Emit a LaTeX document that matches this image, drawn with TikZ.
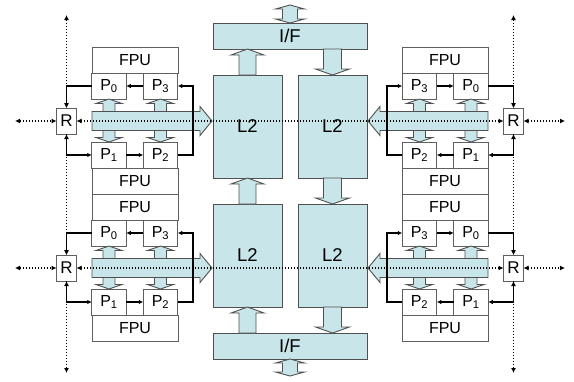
\documentclass[tikz,border=0pt]{standalone}
\usepackage{fontspec}
\setmainfont{Liberation Sans}
\usetikzlibrary{arrows.meta,calc}
\definecolor{lb}{RGB}{200,230,234}
\definecolor{edg}{RGB}{80,80,80}
\definecolor{bxe}{RGB}{95,95,95}
\tikzset{
 box/.style={draw=bxe, line width=0.9pt, fill=white, inner sep=0pt, outer sep=0pt, font=\fontsize{16}{16}\selectfont},
 bbox/.style={draw=edg, line width=0.9pt, fill=lb, inner sep=0pt, outer sep=0pt, font=\fontsize{18.5}{18.5}\selectfont},
 blk/.style={draw=edg, line width=0.9pt, fill=lb, line join=miter},
 wire/.style={line width=1.1pt, -{Latex[length=4.5pt,width=4.5pt]}},
 dots/.style={line width=1.4pt, dash pattern=on 1.4pt off 1.6pt, {Latex[length=5pt,width=5pt]}-{Latex[length=5pt,width=5pt]}},
}
% double vertical block arrow: #1 upper end, #2 lower end, #3 shaft half, #4 head half, #5 head height
\newcommand\blkdbl[5]{\draw[blk] let \p1=(#1), \p2=(#2) in
 (\x1-#3,\y1-#5) -- (\x1-#4,\y1-#5) -- (\x1,\y1) -- (\x1+#4,\y1-#5) -- (\x1+#3,\y1-#5)
 -- (\x1+#3,\y2+#5) -- (\x1+#4,\y2+#5) -- (\x1,\y2) -- (\x1-#4,\y2+#5) -- (\x1-#3,\y2+#5) -- cycle;}
% up block arrow: #1 tail, #2 tip, #3 node giving x
\newcommand\blkup[3]{\draw[blk] let \p1=(#1), \p2=(#2), \p3=(#3) in
 (\x3-8.5pt,\y1) -- (\x3-8.5pt,\y2-6pt) -- (\x3-16.5pt,\y2-6pt) -- (\x3,\y2) -- (\x3+16.5pt,\y2-6pt) -- (\x3+8.5pt,\y2-6pt) -- (\x3+8.5pt,\y1) -- cycle;}
\newcommand\blkdown[3]{\draw[blk] let \p1=(#1), \p2=(#2), \p3=(#3) in
 (\x3-9pt,\y1) -- (\x3-9pt,\y2+6pt) -- (\x3-17pt,\y2+6pt) -- (\x3,\y2) -- (\x3+17pt,\y2+6pt) -- (\x3+9pt,\y2+6pt) -- (\x3+9pt,\y1) -- cycle;}
% processor group: #1 prefix, #2 side sign, #3 mid y
\newcommand\grp[3]{%
 \pgfmathsetmacro\gxa{290+(#2)*(135-290)}%
 \pgfmathsetmacro\gxp{290+(#2)*(109-290)}%
 \pgfmathsetmacro\gxq{290+(#2)*(160.5-290)}%
 \pgfmathsetmacro\gxr{290+(#2)*(66.5-290)}%
 \pgfmathsetmacro\gxw{290+(#2)*(193-290)}%
 \pgfmathsetmacro\gxs{290+(#2)*(92-290)}%
 \pgfmathsetmacro\gxb{290+(#2)*(200-290)}%
 \pgfmathsetmacro\gxt{290+(#2)*(212-290)}%
 \node[box, minimum width=86pt, minimum height=26pt] (#1F1) at (\gxa,#3-61) {FPU};
 \node[box, minimum width=34.5pt, minimum height=26pt] (#1P0) at (\gxp,#3-35) {P\textsubscript{0}};
 \node[box, minimum width=34.5pt, minimum height=26pt] (#1P3) at (\gxq,#3-35) {P\textsubscript{3}};
 \node[box, minimum width=34.5pt, minimum height=26pt] (#1P1) at (\gxp,#3+34) {P\textsubscript{1}};
 \node[box, minimum width=34.5pt, minimum height=26pt] (#1P2) at (\gxq,#3+34) {P\textsubscript{2}};
 \node[box, minimum width=86pt, minimum height=26pt] (#1F2) at (\gxa,#3+60) {FPU};
 \node[box, minimum width=20pt, minimum height=26pt, font=\fontsize{17}{17}\selectfont] (#1R) at (\gxr,#3) {R};
 \blkdbl{#1P0.south}{#1P1.north}{6pt}{13pt}{4.5pt}
 \blkdbl{#1P3.south}{#1P2.north}{6pt}{13pt}{4.5pt}
 \draw[blk] (\gxs,#3-9.5) -- (\gxb,#3-9.5) -- (\gxb,#3-14.5) -- (\gxt,#3) -- (\gxb,#3+14.5) -- (\gxb,#3+9.5) -- (\gxs,#3+9.5) -- cycle;
 \draw[wire] (#1P0) -| (#1R);
 \draw[wire] (#1R) |- (#1P1);
 \draw[wire] (#1P1) -- (#1P2);
 \draw[wire] (#1P2) -- (\gxw,#3+34) -- (\gxw,#3-35) -- (#1P3);
 \draw[wire] (#1P3) -- (#1P0);
}
\begin{document}
\begin{tikzpicture}[x=1pt,y=-1pt]
\useasboundingbox (0,0) rectangle (574,381);
\fill[white] (0,0) rectangle (574,381);
% central column
\coordinate (ioT) at (290,5);
\coordinate (ioB) at (290,376);
\node[bbox, minimum width=154pt, minimum height=26pt] (IFt) at (290,36) {I/F};
\node[bbox, minimum width=154pt, minimum height=26pt] (IFb) at (290,346) {I/F};
\node[bbox, minimum width=69pt, minimum height=103pt] (L2a) at (247.5,126.5) {L2};
\node[bbox, minimum width=69pt, minimum height=103pt] (L2b) at (332.5,126.5) {L2};
\node[bbox, minimum width=69pt, minimum height=103pt] (L2c) at (247.5,255.5) {L2};
\node[bbox, minimum width=69pt, minimum height=103pt] (L2d) at (332.5,255.5) {L2};
\blkdbl{ioT}{IFt.north}{7.5pt}{14.5pt}{4pt}
\blkdbl{IFb.south}{ioB}{7.5pt}{14.5pt}{4pt}
\blkup{L2a.north}{IFt.south}{L2a}
\blkup{L2c.north}{L2a.south}{L2c}
\blkup{IFb.north}{L2c.south}{L2c}
\blkdown{IFt.south}{L2b.north}{L2b}
\blkdown{L2b.south}{L2d.north}{L2d}
\blkdown{L2d.south}{IFb.north}{L2d}
% processor groups
\grp{A}{1}{121}
\grp{B}{1}{268}
\grp{C}{-1}{121}
\grp{D}{-1}{268}
% network (dotted)
\coordinate (tl) at (66.5,15);
\coordinate (bl) at (66.5,373);
\coordinate (tr) at (513.5,15);
\coordinate (br) at (513.5,373);
\coordinate (el1) at (15,121);
\coordinate (el2) at (15,268);
\coordinate (er1) at (565,121);
\coordinate (er2) at (565,268);
\draw[dots] (tl) -- (AR);
\draw[dots] (AR) -- (BR);
\draw[dots] (BR) -- (bl);
\draw[dots] (tr) -- (CR);
\draw[dots] (CR) -- (DR);
\draw[dots] (DR) -- (br);
\draw[dots] (el1) -- (AR);
\draw[dots] (AR) -- (CR);
\draw[dots] (CR) -- (er1);
\draw[dots] (el2) -- (BR);
\draw[dots] (BR) -- (DR);
\draw[dots] (DR) -- (er2);
\end{tikzpicture}
\end{document}
